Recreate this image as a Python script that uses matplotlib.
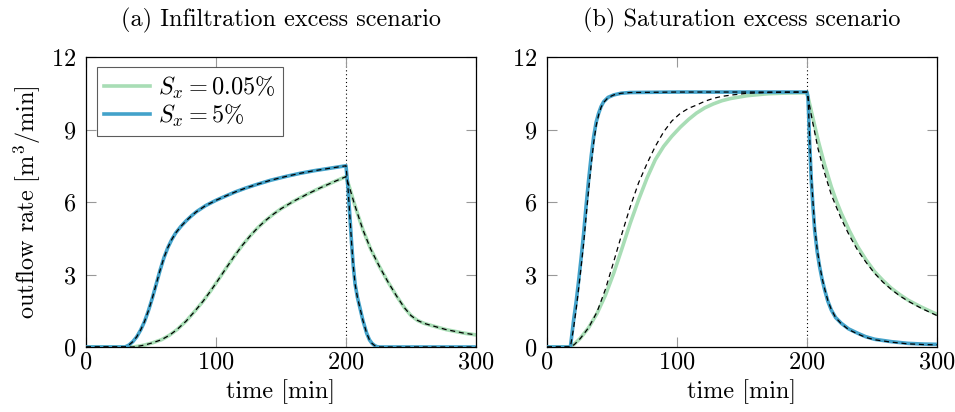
import matplotlib
matplotlib.use("Agg")
import matplotlib.pyplot as plt
from matplotlib.lines import Line2D

plt.rcParams['font.family'] = ['cmr10', 'DejaVu Serif']
plt.rcParams['mathtext.fontset'] = 'cm'
plt.rcParams['axes.formatter.use_mathtext'] = True
plt.rcParams['axes.unicode_minus'] = False

GREEN = '#a8ddb5'
BLUE = '#43a2ca'

titles = ['(a) Infiltration excess scenario', '(b) Saturation excess scenario']
legend_labels = [r'$S_x = 0.05\%$', r'$S_x = 5\%$']
x_ticks = [0, 100, 200, 300]
y_ticks = [0, 3, 6, 9, 12]

# ---- Panel (a): infiltration excess ----
a_blue_t = [0, 30, 33, 36, 39, 42, 45, 48, 51, 54, 57, 60, 63, 66, 69, 73, 77, 81, 85, 92, 100, 108, 115, 123, 131,
            142, 154, 165, 175, 188, 200,
            201.5, 203, 204.3, 205.6, 207, 208.8, 210.8, 213, 215.9, 218, 220, 222, 224, 226, 300]
a_blue_v = [0, 0, 0.08, 0.22, 0.42, 0.7, 1.05, 1.5, 2.02, 2.6, 3.18, 3.7, 4.12, 4.45, 4.72, 4.99, 5.22, 5.42, 5.6, 5.85, 6.07, 6.26, 6.42, 6.58, 6.72,
            6.9, 7.06, 7.19, 7.29, 7.4, 7.5,
            6.6, 5.4, 4.3, 3.35, 2.6, 2.05, 1.6, 1.1, 0.57, 0.3, 0.15, 0.06, 0.01, 0, 0]
a_green_t = [0, 36, 40, 45, 51, 58, 64, 70, 77, 84, 90, 96, 102, 108, 114, 120, 126, 132, 138, 144, 150, 160, 170, 180, 190, 200,
             203, 206, 209, 213, 219, 226, 232, 239, 245, 250, 255, 260, 265, 277, 290, 300]
a_green_v = [0, 0, 0.03, 0.08, 0.17, 0.3, 0.48, 0.72, 1.07, 1.5, 1.89, 2.33, 2.8, 3.28, 3.75, 4.19, 4.58, 4.93, 5.23, 5.49, 5.72, 6.04, 6.32, 6.58, 6.82, 7.05,
             6.55, 6.0, 5.5, 4.85, 4.05, 3.3, 2.72, 2.1, 1.62, 1.3, 1.1, 0.98, 0.9, 0.72, 0.58, 0.5]
a_blue_model_t = a_blue_t
a_blue_model_v = a_blue_v
a_green_model_t = a_green_t
a_green_model_v = a_green_v

# ---- Panel (b): saturation excess ----
b_blue_t = [0, 18, 20.5, 22.5, 24.4, 26.3, 28.2, 30, 32, 34, 35.9, 37.8, 39.7, 41.6, 43.6, 47, 51.3, 57, 64, 100, 150, 200,
            200.8, 202, 203.3, 204.6, 205.9, 207.8, 209.7, 211.6, 213.6, 216, 218.7, 222, 226.4, 232, 239, 245, 252, 265, 277.7, 290, 300]
b_blue_v = [0, 0, 1.12, 1.9, 2.77, 3.7, 4.7, 5.8, 6.9, 7.9, 8.7, 9.3, 9.67, 9.95, 10.15, 10.33, 10.43, 10.5, 10.53, 10.55, 10.55, 10.55,
            10.3, 8.5, 6.9, 5.8, 4.84, 3.95, 3.32, 2.8, 2.36, 1.9, 1.53, 1.22, 0.98, 0.75, 0.57, 0.43, 0.32, 0.22, 0.15, 0.12, 0.11]
b_blue_model_v = [0, 0, 0.8, 1.6, 2.45, 3.35, 4.3, 5.35, 6.5, 7.55, 8.45, 9.15, 9.6, 9.92, 10.12, 10.32, 10.43, 10.5, 10.53, 10.55, 10.55, 10.55,
                  10.35, 8.7, 7.1, 6.0, 5.0, 4.05, 3.4, 2.85, 2.4, 1.93, 1.55, 1.22, 0.96, 0.72, 0.54, 0.4, 0.3, 0.2, 0.13, 0.1, 0.09]
b_green_t = [0, 17.5, 21, 25.6, 32, 38.5, 45, 51.3, 57.7, 64, 70.5, 77, 83.3, 89.7, 96, 102.6, 109, 115, 121.5, 128, 134.5, 141, 154, 170, 185, 200,
             204, 208.5, 213.5, 218.7, 222.5, 226.4, 232.7, 239, 245.5, 252, 258.5, 264.9, 271.3, 277.7, 288, 300]
b_green_v = [0, 0, 0.12, 0.36, 0.8, 1.39, 2.15, 3.05, 4.08, 5.12, 6.1, 7.0, 7.75, 8.3, 8.72, 9.1, 9.42, 9.68, 9.9, 10.06, 10.19, 10.28, 10.4, 10.48, 10.51, 10.52,
             9.6, 8.56, 7.55, 6.63, 6.05, 5.53, 4.8, 4.15, 3.6, 3.12, 2.75, 2.43, 2.17, 1.94, 1.65, 1.35]
b_green_model_v = [0, 0, 0.1, 0.35, 0.8, 1.45, 2.4, 3.53, 4.7, 5.8, 6.8, 7.6, 8.3, 8.9, 9.35, 9.67, 9.88, 10.01, 10.17, 10.29, 10.37, 10.42, 10.5, 10.53, 10.54, 10.55,
                   9.4, 8.2, 7.2, 6.3, 5.8, 5.3, 4.6, 4.0, 3.5, 3.05, 2.68, 2.38, 2.12, 1.9, 1.6, 1.3]

panels = [
    (a_green_t, a_green_v, a_green_model_t, a_green_model_v, a_blue_t, a_blue_v, a_blue_model_t, a_blue_model_v),
    (b_green_t, b_green_v, b_green_t, b_green_model_v, b_blue_t, b_blue_v, b_blue_t, b_blue_model_v),
]

FS = 17.5
fig = plt.figure(figsize=(9.55, 4.12), dpi=100)
W, H = 955, 412
axes = []
for i, left in enumerate([86, 547]):
    ax = fig.add_axes([left / W, 1 - 347 / H, 390 / W, 290 / H])
    axes.append(ax)
    gt, gv, gmt, gmv, bt, bv, bmt, bmv = panels[i]
    ax.axvline(200, color='black', linestyle=(0, (1, 2.5)), linewidth=0.8, zorder=1)
    ax.plot(gt, gv, color=GREEN, linewidth=2.6, solid_joinstyle='round', zorder=2)
    ax.plot(bt, bv, color=BLUE, linewidth=2.6, solid_joinstyle='round', zorder=3)
    ax.plot(gmt, gmv, color='black', linewidth=0.9, dashes=(4, 3), zorder=4)
    ax.plot(bmt, bmv, color='black', linewidth=0.9, dashes=(4, 3), zorder=5)
    ax.set_xlim(0, 300)
    ax.set_ylim(0, 12)
    ax.set_xticks(x_ticks)
    ax.set_yticks(y_ticks)
    ax.tick_params(direction='in', length=7, width=0.8, color='#999999', top=True, right=True,
                   labelsize=FS, pad=3)
    ax.tick_params(axis='y', pad=7)
    for s in ax.spines.values():
        s.set_linewidth(0.9)
    ax.set_title(titles[i], fontsize=FS, pad=22)
    ax.set_xlabel('time [min]', fontsize=FS, labelpad=4)

axes[0].set_ylabel(r'outflow rate [m$^3$/min]', fontsize=FS, labelpad=6)

handles = [Line2D([], [], color=GREEN, linewidth=2.6), Line2D([], [], color=BLUE, linewidth=2.6)]
leg = axes[0].legend(handles, legend_labels, loc='upper left', bbox_to_anchor=(0.028, 0.965),
                     fontsize=FS, frameon=True, fancybox=False, handlelength=1.9, handletextpad=0.3,
                     borderpad=0.3, labelspacing=0.08, borderaxespad=0)
leg.get_frame().set_edgecolor('#333333')
leg.get_frame().set_linewidth(0.8)

fig.savefig('out.png', dpi=100)
